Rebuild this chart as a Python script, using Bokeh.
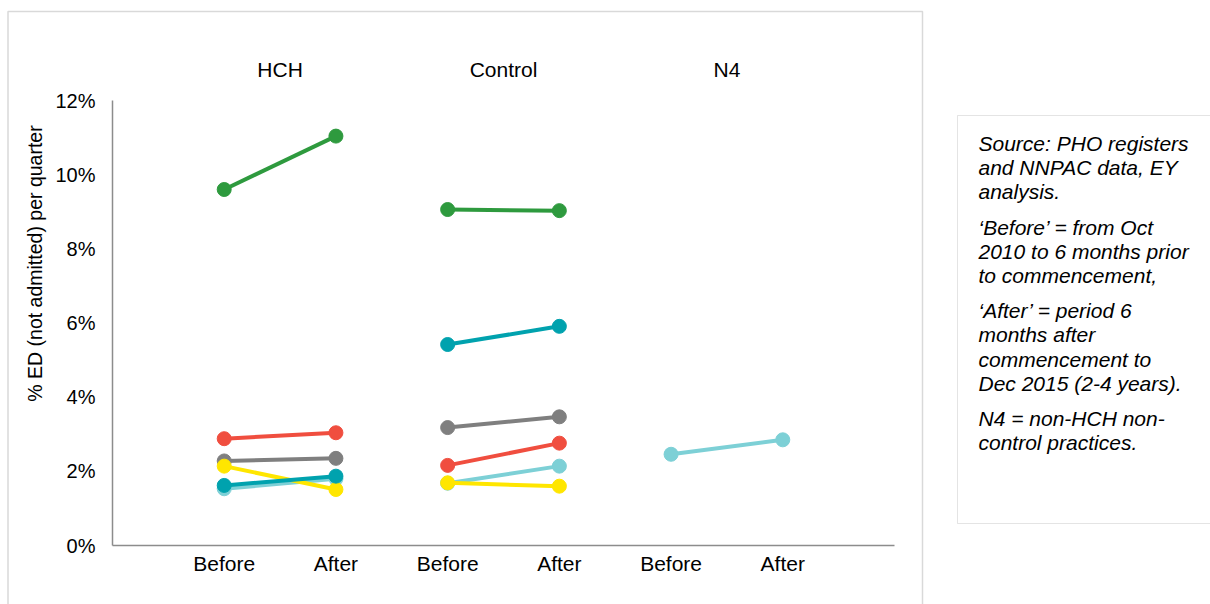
import math
from bokeh.plotting import figure
from bokeh.models import (LinearAxis, FixedTicker, Range1d, Grid, BoxAnnotation)
from bokeh.core.properties import value
from bokeh.embed import file_html
from bokeh.resources import INLINE

# ---------------- data ----------------
groups = ["HCH", "Control", "N4"]
periods = ["Before", "After"]
series_colors = ["#2E9A3E", "#F04E3F", "#7F7F7F", "#7DD0D6", "#FFE600", "#00A2AE"]
# values in % per group: [Before, After]; None = no data
hch = [[9.60, 11.04], [2.88, 3.04], [2.28, 2.35], [1.53, 1.80], [2.14, 1.51], [1.62, 1.87]]
control = [[9.06, 9.03], [2.16, 2.76], [3.18, 3.47], [1.68, 2.14], [1.69, 1.60], [5.42, 5.91]]
n4 = [None, None, None, [2.46, 2.85], None, None]
y_ticks = [0, 2, 4, 6, 8, 10, 12]
y_tick_labels = ["0%", "2%", "4%", "6%", "8%", "10%", "12%"]
y_title = "% ED (not admitted) per quarter"
# note text: (line, starts a new paragraph)
note_lines = [
    ("Source: PHO registers", False),
    ("and NNPAC data, EY", False),
    ("analysis.", False),
    ("\u2018Before\u2019 = from Oct", True),
    ("2010 to 6 months prior", False),
    ("to commencement,", False),
    ("\u2018After\u2019 = period 6", True),
    ("months after", False),
    ("commencement to", False),
    ("Dec 2015 (2-4 years).", False),
    ("N4 = non-HCH non-", True),
    ("control practices.", False),
]

# ---------------- layout (page pixels) ----------------
W, H = 1210, 604
AX_L, AX_R, AX_T, AX_B = 112, 894, 100, 545   # plot area of the axes
XMAX, YMAX = 7, 12
XPX = (AX_R - AX_L) / XMAX
YPX = (AX_B - AX_T) / YMAX
FONT = "Liberation Sans"


def dx(px):
    return (px - AX_L) / XPX


def dy(py):
    return (AX_B - py) / YPX


p = figure(width=W, height=H, output_backend="svg", toolbar_location=None,
           x_range=Range1d(dx(0), dx(W)), y_range=Range1d(dy(H), dy(0)),
           x_axis_location=None, y_axis_location=None,
           min_border=0, min_border_left=0, min_border_right=0,
           min_border_top=0, min_border_bottom=0)
p.outline_line_color = None
p.background_fill_color = "white"
p.border_fill_color = "white"
for g in p.select(type=Grid):
    g.visible = False

# outer chart border and note box
p.line([dx(7.5), dx(7.5), dx(922), dx(922)], [dy(700), dy(11), dy(11), dy(700)],
       line_color="#D9D9D9", line_width=1.5)
p.add_layout(BoxAnnotation(left=dx(957), right=dx(1300), top=dy(115), bottom=dy(523),
                           fill_color=None, line_color="#A6A6A6", line_width=1))

# axes (drawn at fixed data positions)
tick_x = [2 * gi + pi + 1 for gi in range(len(groups)) for pi in range(len(periods))]
xaxis = LinearAxis(fixed_location=0, bounds=(0, XMAX),
                   ticker=FixedTicker(ticks=tick_x),
                   major_label_overrides={t: periods[i % 2] for i, t in enumerate(tick_x)})
yaxis = LinearAxis(fixed_location=0, bounds=(0, YMAX),
                   ticker=FixedTicker(ticks=y_ticks),
                   major_label_overrides=dict(zip(y_ticks, y_tick_labels)))
for ax in (xaxis, yaxis):
    ax.axis_line_color = "#8C8C8C"
    ax.axis_line_width = 1.5
    ax.major_tick_line_color = None
    ax.minor_tick_line_color = None
    ax.major_tick_in = 0
    ax.major_tick_out = 0
    ax.minor_tick_in = 0
    ax.minor_tick_out = 0
    ax.major_label_text_font = FONT
    ax.major_label_text_color = "#000000"
xaxis.major_label_text_font_size = "21px"
yaxis.major_label_text_font_size = "20px"
yaxis.major_label_standoff = 17
xaxis.major_label_standoff = 6
p.add_layout(xaxis, "below")
p.add_layout(yaxis, "left")

# data lines and points
for si, color in enumerate(series_colors):
    for gi, gdata in enumerate([hch, control, n4]):
        vals = gdata[si]
        if vals is None:
            continue
        xs = [2 * gi + pi + 1 for pi in range(len(periods))]
        p.line(xs, vals, line_color=color, line_width=4)
        p.scatter(xs, vals, size=14, fill_color=color, line_color=color)

# group titles
p.text(x=[2 * gi + 1.5 for gi in range(len(groups))], y=[dy(69)] * len(groups),
       text=groups, text_align="center", text_baseline="middle",
       text_font=value(FONT), text_font_size="21px", text_color="#000000")

# y axis title
p.text(x=[dx(34)], y=[dy(263)], text=[y_title], angle=math.pi / 2,
       text_align="center", text_baseline="middle", text_font=value(FONT),
       text_font_size="19.5px", text_color="#000000")

# note text
lines, ys = [], []
py = 143 - 24.2
for line, new_para in note_lines:
    py += 24.2 + (11.0 if new_para else 0)
    lines.append(line)
    ys.append(dy(py))
p.text(x=[dx(978)] * len(lines), y=ys, text=lines, text_align="left",
       text_baseline="middle", text_font=value(FONT), text_font_style="italic",
       text_font_size="21px", text_color="#000000")

open("out.html", "w").write(file_html(p, INLINE))
